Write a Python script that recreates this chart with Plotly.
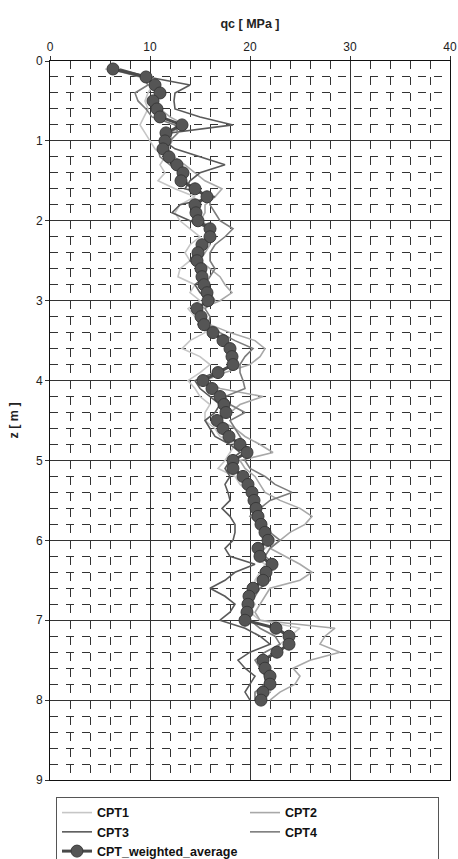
import plotly.graph_objects as go

depth = [0.1, 0.2, 0.3, 0.4, 0.5, 0.6, 0.7, 0.8, 0.9, 1.0,
         1.1, 1.2, 1.3, 1.4, 1.5, 1.6, 1.7, 1.8, 1.9, 2.0,
         2.1, 2.2, 2.3, 2.4, 2.5, 2.6, 2.7, 2.8, 2.9, 3.0,
         3.1, 3.2, 3.3, 3.4, 3.5, 3.6, 3.7, 3.8, 3.9, 4.0,
         4.1, 4.2, 4.3, 4.4, 4.5, 4.6, 4.7, 4.8, 4.9, 5.0,
         5.1, 5.2, 5.3, 5.4, 5.5, 5.6, 5.7, 5.8, 5.9, 6.0,
         6.1, 6.2, 6.3, 6.4, 6.5, 6.6, 6.7, 6.8, 6.9, 7.0,
         7.1, 7.2, 7.3, 7.4, 7.5, 7.6, 7.7, 7.8, 7.9, 8.0]

cpt1 = [5.5, 10.2, 10.3, 9.8, 9.5, 9.8, 9.4, 9.0, 9.5, 10.0,
        10.5, 11.5, 11.0, 11.5, 10.8, 12.5, 14.5, 13.0, 12.5, 13.0,
        14.0, 15.0, 14.0, 13.5, 14.0, 13.0, 12.8, 14.5, 14.0, 15.0,
        13.8, 14.5, 15.5, 15.5, 14.0, 13.2, 15.0, 16.0, 15.0, 13.8,
        14.5, 15.0, 16.0, 15.5, 15.5, 16.5, 17.0, 18.5, 18.0, 17.5,
        16.8, 18.5, 19.0, 20.0, 20.5, 21.0, 20.5, 21.0, 22.0, 22.5,
        21.5, 20.5, 21.5, 21.0, 20.5, 20.5, 20.0, 20.5, 20.0, 21.0,
        25.0, 24.0, 23.0, 22.5, 21.0, 21.5, 22.0, 22.5, 22.0, 21.5]

cpt2 = [6.0, 9.0, 10.6, 11.0, 10.5, 11.0, 12.0, 13.5, 12.0, 12.2,
        11.8, 12.4, 13.5, 14.5, 15.5, 17.2, 16.5, 15.5, 15.5, 15.0,
        16.5, 15.5, 16.0, 15.5, 15.0, 16.0, 17.0, 17.5, 18.2, 17.0,
        15.0, 15.5, 16.0, 18.0, 20.5, 21.5, 21.0, 20.0, 17.5, 15.5,
        17.0, 21.3, 19.0, 18.0, 17.0, 18.5, 19.5, 21.0, 22.3, 19.0,
        19.5, 20.5, 21.0, 21.5, 23.0, 25.0, 26.2, 25.5, 24.0, 23.0,
        22.0, 23.5, 25.0, 26.2, 25.0, 22.0, 21.5, 21.0, 20.5, 21.0,
        28.5, 27.5, 27.0, 29.0, 26.0, 24.3, 25.0, 24.5, 23.0, 22.0]

cpt3 = [7.0, 9.8, 14.0, 12.5, 12.4, 12.5, 15.0, 18.3, 12.0, 11.4,
        12.5, 15.0, 17.5, 15.0, 14.0, 13.5, 16.5, 13.0, 12.2, 14.0,
        16.0, 16.5, 15.0, 14.5, 14.0, 15.0, 15.5, 14.5, 15.0, 16.0,
        14.5, 15.0, 14.8, 16.0, 17.5, 18.0, 18.5, 18.5, 16.5, 14.5,
        15.0, 16.0, 17.0, 16.5, 15.5, 16.0, 16.5, 18.0, 19.0, 18.0,
        17.5, 18.0, 17.5, 17.8, 18.0, 17.2, 18.0, 18.5, 18.5, 18.3,
        17.5, 18.0, 20.5, 18.5, 17.5, 16.0, 17.5, 18.5, 18.0, 17.0,
        19.5, 21.0, 22.0, 20.0, 18.8, 19.5, 20.5, 20.0, 19.5, 20.0]

cpt4 = [6.5, 9.3, 9.8, 8.5, 8.8, 9.6, 10.2, 12.5, 12.8, 12.0,
        10.8, 11.0, 12.0, 13.0, 13.5, 14.5, 16.0, 16.0, 16.5, 17.0,
        18.3, 17.5, 16.5, 16.0, 16.0, 16.5, 16.0, 15.5, 16.0, 16.5,
        15.5, 16.0, 15.8, 17.0, 18.5, 20.3, 19.5, 19.0, 19.0, 19.3,
        19.5, 17.5, 18.0, 19.5, 18.0, 18.5, 19.0, 19.5, 20.0, 19.5,
        20.0, 21.5, 22.5, 24.2, 22.0, 21.0, 20.0, 21.0, 22.0, 23.0,
        22.0, 21.5, 22.5, 21.5, 22.0, 21.0, 20.5, 20.0, 20.0, 20.0,
        21.0, 22.5, 23.0, 21.5, 20.5, 21.0, 21.5, 21.5, 20.5, 20.5]

weighted = [6.3, 9.6, 10.5, 11.0, 10.3, 10.7, 11.0, 13.2, 11.6, 11.5,
            11.3, 11.9, 12.7, 13.3, 13.1, 14.5, 15.7, 14.5, 14.6, 14.8,
            16.0, 16.0, 15.2, 14.8, 14.7, 15.1, 15.2, 15.4, 15.7, 15.8,
            14.7, 15.1, 15.4, 16.3, 17.3, 18.0, 18.2, 18.3, 16.8, 15.3,
            16.2, 17.0, 17.4, 17.6, 16.7, 17.3, 17.9, 19.0, 19.7, 18.3,
            18.3, 19.3, 19.8, 20.2, 20.4, 20.6, 20.8, 21.1, 21.5, 21.8,
            20.8, 21.0, 22.2, 21.6, 21.3, 20.3, 19.9, 19.8, 19.7, 19.5,
            22.6, 23.9, 23.9, 22.7, 21.3, 21.5, 22.0, 22.0, 21.3, 21.1]

names = ["CPT1", "CPT2", "CPT3", "CPT4"]
series = [cpt1, cpt2, cpt3, cpt4]
colors = ["#c6c6c6", "#a8a8a8", "#5a5a5a", "#7c7c7c"]

FONT = "Liberation Sans, Arial, sans-serif"

fig = go.Figure()
for n, s, c in zip(names, series, colors):
    fig.add_trace(go.Scatter(x=s, y=depth, mode="lines", name=n,
                             line=dict(color=c, width=1.6)))

fig.add_trace(go.Scatter(x=weighted, y=depth, mode="lines+markers",
                         name="CPT_weighted_average",
                         line=dict(color="#4a4a4a", width=3),
                         marker=dict(size=12, color="#555555",
                                     line=dict(color="#3a3a3a", width=1))))

fig.update_layout(
    width=458, height=859,
    margin=dict(l=50, r=8, t=61, b=79, autoexpand=False),
    paper_bgcolor="white", plot_bgcolor="white",
    font=dict(family=FONT, size=12, color="#222"),
    showlegend=True,
    legend=dict(orientation="h", x=0.015, y=-0.0236, xanchor="left", yanchor="top",
                entrywidth=0.47, entrywidthmode="fraction",
                bordercolor="#555", borderwidth=1,
                font=dict(family=FONT, size=12.5, color="#111", weight="bold"),
                itemwidth=30, tracegroupgap=0),
    xaxis=dict(side="top", range=[0, 40], dtick=10, tick0=0,
               showgrid=True, gridcolor="#333", gridwidth=1,
               showline=True, linecolor="#111", linewidth=1, mirror=True,
               ticks="outside", ticklen=4, tickcolor="#333",
               zeroline=False, automargin=False,
               title=dict(text="qc [ MPa ]", standoff=8,
                          font=dict(family=FONT, size=12.5, weight="bold", color="#222")),
               minor=dict(dtick=2, showgrid=True, gridcolor="#333", gridwidth=1,
                          griddash="8px,8px")),
    yaxis=dict(range=[9, 0], dtick=1, tick0=0,
               showgrid=True, gridcolor="#333", gridwidth=1,
               showline=True, linecolor="#111", linewidth=1, mirror=True,
               ticks="outside", ticklen=4, tickcolor="#333",
               zeroline=False, automargin=False,
               title=dict(text="z [ m ]", standoff=14,
                          font=dict(family=FONT, size=12.5, weight="bold", color="#222")),
               minor=dict(dtick=0.2, showgrid=True, gridcolor="#333", gridwidth=1,
                          griddash="8px,8px")),
)

fig.write_html("out.html",
               config={"displayModeBar": False},
               post_script="document.body.style.margin='0';document.body.style.overflow='hidden';")
